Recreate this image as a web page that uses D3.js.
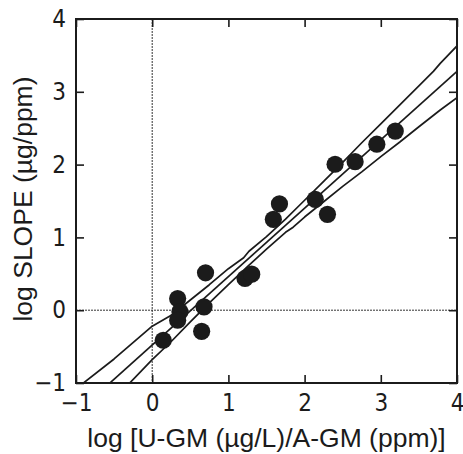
<!DOCTYPE html>
<html>
<head>
<meta charset="utf-8">
<script src="https://cdn.jsdelivr.net/npm/d3@7"></script>
<style>
  html, body { margin: 0; padding: 0; background: #fff; }
  svg { display: block; }
</style>
</head>
<body>
<svg id="chart" width="463" height="454"></svg>
<script>
// ---- data ----
const xTicks = [-1, 0, 1, 2, 3, 4];
const yTicks = [-1, 0, 1, 2, 3, 4];
const xLabel = "log [U-GM (µg/L)/A-GM (ppm)]";
const yLabel = "log SLOPE (µg/ppm)";

const pointsX = [0.145, 0.334, 0.364, 0.334, 0.68, 0.649, 0.70, 1.218, 1.306, 1.59, 1.67, 2.14, 2.30, 2.40, 2.663, 2.948, 3.19];
const pointsY = [-0.413, 0.16, -0.02, -0.138, 0.046, -0.29, 0.514, 0.436, 0.495, 1.248, 1.46, 1.523, 1.317, 2.005, 2.04, 2.28, 2.46];

const regressionLine = [[-1, -1.418], [4, 3.28]];
const upperBand = [[-1.0, -1.08], [-0.5, -0.67], [0, -0.22], [0.25, -0.07], [0.5, 0.14], [0.75, 0.35], [1.0, 0.57], [1.2, 0.72], [1.27, 0.81], [1.5, 1.01], [1.75, 1.25], [2.0, 1.51], [2.25, 1.77], [2.5, 2.03], [2.75, 2.30], [3.0, 2.56], [3.25, 2.82], [3.5, 3.08], [3.69, 3.28], [3.78, 3.39], [4.0, 3.63]];
const lowerBand = [[-0.35, -1.06], [0, -0.68], [0.25, -0.43], [0.5, -0.16], [0.75, 0.10], [1.0, 0.35], [1.25, 0.60], [1.5, 0.84], [1.75, 1.07], [1.85, 1.14], [2.0, 1.28], [2.25, 1.49], [2.5, 1.70], [2.75, 1.90], [3.0, 2.11], [3.25, 2.31], [3.5, 2.52], [3.78, 2.75], [4.0, 2.92]];

// ---- layout ----
const L = 76, R = 457, T = 19, B = 383;
const svg = d3.select("#chart");
const x = d3.scaleLinear().domain([-1, 4]).range([L, R]);
const y = d3.scaleLinear().domain([-1, 4]).range([B, T]);
const ink = "#1b1b1b";
const tickFont = "'Liberation Sans Narrow', 'Arial Narrow', 'DejaVu Sans Condensed', sans-serif";
const labelFont = "'Liberation Sans', Arial, sans-serif";
const fmt = d => (d < 0 ? "\u2212" + Math.abs(d) : String(d));

svg.append("defs").append("clipPath").attr("id", "plotclip")
  .append("rect").attr("x", L).attr("y", T).attr("width", R - L).attr("height", B - T);

const plot = svg.append("g").attr("clip-path", "url(#plotclip)");

// zero reference lines (dotted)
plot.append("line")
  .attr("x1", x(0)).attr("x2", x(0)).attr("y1", T).attr("y2", B)
  .attr("stroke", "#333").attr("stroke-width", 1).attr("stroke-dasharray", "2,1");
plot.append("line")
  .attr("x1", L).attr("x2", R).attr("y1", y(0)).attr("y2", y(0))
  .attr("stroke", "#333").attr("stroke-width", 1).attr("stroke-dasharray", "2,1");

// lines
const lineGen = d3.line().x(d => x(d[0])).y(d => y(d[1]));
[regressionLine, upperBand, lowerBand].forEach(arr => {
  plot.append("path").datum(arr)
    .attr("d", lineGen)
    .attr("fill", "none").attr("stroke", ink).attr("stroke-width", 1.7)
    .attr("stroke-linejoin", "round");
});

// points
plot.selectAll("circle.pt").data(pointsX.map((v, i) => [v, pointsY[i]]))
  .enter().append("circle").attr("class", "pt")
  .attr("cx", d => x(d[0])).attr("cy", d => y(d[1]))
  .attr("r", 8.6)
  .attr("fill", ink);

// axes (inward ticks)
const gB = svg.append("g").attr("transform", `translate(0,${B})`)
  .call(d3.axisBottom(x).tickValues(xTicks).tickFormat(fmt).tickSizeInner(-8).tickSizeOuter(0).tickPadding(11));
const gL = svg.append("g").attr("transform", `translate(${L},0)`)
  .call(d3.axisLeft(y).tickValues(yTicks).tickFormat(fmt).tickSizeInner(-8).tickSizeOuter(0).tickPadding(10));
const gT = svg.append("g").attr("transform", `translate(0,${T})`)
  .call(d3.axisTop(x).tickValues(xTicks).tickFormat("").tickSizeInner(-8).tickSizeOuter(0));
const gR = svg.append("g").attr("transform", `translate(${R},0)`)
  .call(d3.axisRight(y).tickValues(yTicks).tickFormat("").tickSizeInner(-8).tickSizeOuter(0));

[gB, gL, gT, gR].forEach(g => {
  g.select(".domain").remove();
  g.selectAll(".tick line").attr("stroke", ink).attr("stroke-width", 1.6);
  g.selectAll(".tick text").attr("fill", ink).style("font-family", tickFont).style("font-size", "24px");
});

// frame
svg.append("rect").attr("x", L).attr("y", T).attr("width", R - L).attr("height", B - T)
  .attr("fill", "none").attr("stroke", ink).attr("stroke-width", 2);

// axis titles
svg.append("text").attr("x", (L + R) / 2).attr("y", 447)
  .attr("text-anchor", "middle").attr("fill", ink)
  .style("font-family", labelFont).style("font-size", "26.5px")
  .text(xLabel);
svg.append("text")
  .attr("transform", `translate(32,${(T + B) / 2 - 2}) rotate(-90)`)
  .attr("text-anchor", "middle").attr("fill", ink)
  .style("font-family", labelFont).style("font-size", "26.5px")
  .text(yLabel);
</script>
</body>
</html>
